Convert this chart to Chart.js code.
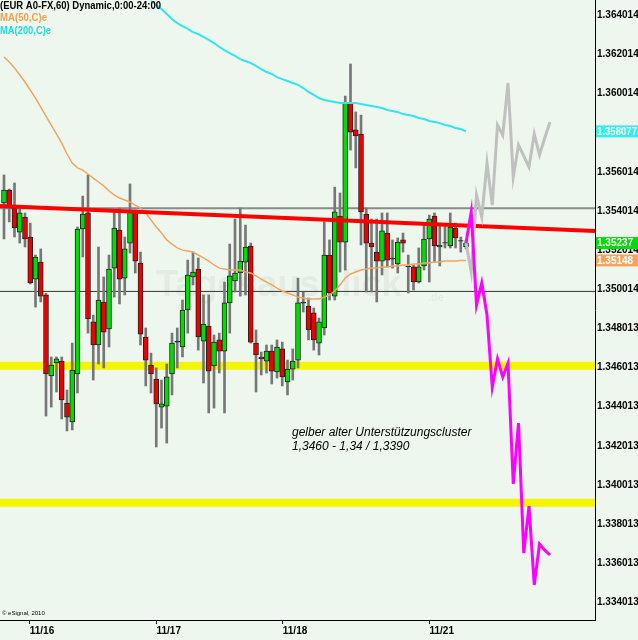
<!DOCTYPE html>
<html>
<head>
<meta charset="utf-8">
<script src="https://cdn.jsdelivr.net/npm/chart.js@4.4.1/dist/chart.umd.min.js"></script>
<style>
  html, body { margin: 0; padding: 0; background: #eef7ee; }
</style>
</head>
<body>
<canvas id="chart" width="638" height="640"></canvas>
<script>
// EUR/USD 60 min candles, index 1..89
const opens = [1.35442,1.35508,1.35416,1.35293,1.35370,1.35268,1.35053,1.35140,1.34972,1.34558,
  1.34624,1.34634,1.34420,1.34323,1.34568,1.35309,1.35391,1.34834,1.34716,1.34936,
  1.34798,1.35109,1.35304,1.35058,1.35237,1.35391,1.35135,1.34757,1.34614,1.34542,
  1.34399,1.34404,1.34568,1.34730,1.34706,1.34895,1.35064,1.35104,1.34736,1.34813,
  1.34609,1.34742,1.34685,1.34931,1.35043,1.35084,1.35140,1.35222,1.34726,1.34655,
  1.34634,1.34685,1.34578,1.34696,1.34527,1.34593,1.34639,1.34930,1.34915,1.34880,
  1.34726,1.34803,1.35176,1.34966,1.35375,1.35242,1.35953,1.35815,1.35794,1.35385,
  1.35237,1.35191,1.35145,1.35288,1.35155,1.35130,1.35253,1.35120,1.35115,1.35038,
  1.35120,1.35258,1.35375,1.35217,1.35237,1.35222,1.35314,1.35247,1.35218];
const highs = [1.35585,1.35513,1.35544,1.35411,1.35391,1.35339,1.35176,1.35207,1.34980,1.34655,
  1.34655,1.34655,1.34486,1.34726,1.35319,1.35477,1.35585,1.34869,1.35217,1.35064,
  1.35176,1.35396,1.35416,1.35268,1.35539,1.35406,1.35191,1.34803,1.34675,1.34599,
  1.34537,1.34619,1.34777,1.34803,1.34946,1.35150,1.35191,1.35161,1.34972,1.34972,
  1.34767,1.34777,1.35038,1.35232,1.35360,1.35416,1.35329,1.35237,1.34793,1.34680,
  1.34716,1.34716,1.34742,1.34731,1.34639,1.34696,1.35058,1.34987,1.34956,1.34905,
  1.34854,1.35345,1.35253,1.35523,1.35493,1.35988,1.36152,1.35907,1.35891,1.35416,
  1.35360,1.35360,1.35391,1.35391,1.35253,1.35263,1.35288,1.35176,1.35125,1.35212,
  1.35339,1.35380,1.35391,1.35339,1.35334,1.35391,1.35339,1.35268,1.35248];
const lows = [1.35258,1.35345,1.35268,1.35237,1.35217,1.35028,1.34910,1.34936,1.34353,1.34399,
  1.34476,1.34338,1.34277,1.34282,1.34471,1.35166,1.34777,1.34537,1.34619,1.34599,
  1.34706,1.34961,1.34926,1.34972,1.35186,1.35084,1.34716,1.34507,1.34471,1.34195,
  1.34292,1.34215,1.34461,1.34599,1.34655,1.34777,1.35023,1.34690,1.34522,1.34369,
  1.34394,1.34573,1.34369,1.34777,1.34987,1.34966,1.34972,1.34726,1.34476,1.34563,
  1.34573,1.34517,1.34547,1.34507,1.34461,1.34537,1.34599,1.34885,1.34742,1.34690,
  1.34665,1.34767,1.34946,1.34946,1.35089,1.35099,1.35712,1.35621,1.35227,1.34987,
  1.34987,1.34936,1.35074,1.35115,1.35109,1.35084,1.35191,1.34982,1.34997,1.35033,
  1.35099,1.35038,1.35140,1.35120,1.35212,1.35212,1.35212,1.35191,1.35207];
const closes = [1.35508,1.35421,1.35314,1.35391,1.35258,1.35033,1.35166,1.34966,1.34568,1.34614,
  1.34645,1.34435,1.34348,1.34588,1.35309,1.35385,1.34849,1.34716,1.34946,1.34782,
  1.35104,1.35314,1.35053,1.35207,1.35396,1.35145,1.34772,1.34639,1.34568,1.34415,
  1.34415,1.34553,1.34726,1.34736,1.34895,1.35074,1.35089,1.34757,1.34823,1.34583,
  1.34731,1.34685,1.34931,1.35069,1.35084,1.35145,1.35217,1.34731,1.34665,1.34645,
  1.34685,1.34583,1.34706,1.34553,1.34593,1.34634,1.34931,1.34936,1.34793,1.34742,
  1.34834,1.35176,1.34982,1.35396,1.35242,1.35953,1.35804,1.35784,1.35396,1.35237,
  1.35217,1.35145,1.35299,1.35150,1.35160,1.35242,1.35237,1.35115,1.35038,1.35115,
  1.35258,1.35360,1.35222,1.35227,1.35240,1.35319,1.35263,1.35250,1.35237];

// MA(50,C) for every candle
const ma50 = [1.36188,1.36162,1.36132,1.36096,1.36060,1.36019,1.35978,1.35932,1.35886,1.35840,
  1.35794,1.35748,1.35692,1.35646,1.35621,1.35610,1.35590,1.35569,1.35549,1.35529,
  1.35503,1.35483,1.35467,1.35457,1.35447,1.35431,1.35416,1.35391,1.35355,1.35319,
  1.35288,1.35253,1.35232,1.35212,1.35201,1.35196,1.35191,1.35176,1.35161,1.35145,
  1.35125,1.35109,1.35104,1.35099,1.35099,1.35099,1.35089,1.35084,1.35069,1.35053,
  1.35038,1.35023,1.35007,1.34992,1.34982,1.34972,1.34961,1.34956,1.34951,1.34951,
  1.34951,1.34961,1.34972,1.34992,1.35023,1.35058,1.35079,1.35089,1.35099,1.35104,
  1.35109,1.35109,1.35115,1.35115,1.35120,1.35120,1.35125,1.35125,1.35130,1.35130,
  1.35135,1.35135,1.35140,1.35140,1.35145,1.35145,1.35145,1.35148,1.35148];

// MA(200,C) visible from candle 29 on
const ma200Start = 29;
const ma200 = [1.36474,1.36453,1.36433,1.36407,1.36382,1.36361,1.36346,1.36331,1.36315,1.36305,
  1.36290,1.36275,1.36259,1.36239,1.36223,1.36208,1.36193,1.36177,1.36167,1.36157,
  1.36142,1.36126,1.36111,1.36101,1.36085,1.36075,1.36065,1.36055,1.36045,1.36029,
  1.36009,1.35994,1.35978,1.35968,1.35963,1.35958,1.35953,1.35953,1.35953,1.35953,
  1.35948,1.35942,1.35937,1.35932,1.35927,1.35917,1.35912,1.35907,1.35896,1.35891,
  1.35886,1.35876,1.35871,1.35861,1.35856,1.35850,1.35840,1.35835,1.35825,1.35820,
  1.358077];

// drawn scenarios, from candle 89 on
const pathStart = 89;
const upPath = [1.35237,1.35089,1.35483,1.35370,1.35646,1.35431,1.35840,1.35789,1.36055,1.35575,
  1.35738,1.35682,1.35626,1.35794,1.35687,1.35774,1.35856];
const downPath = [1.35237,1.35396,1.34920,1.35033,1.34869,1.34501,1.34645,1.34553,1.34624,1.34006,
  1.34317,1.33653,1.33893,1.33490,1.33699,1.33668,1.33643];

const trendLine = [1.35426, 1.35299];     // red resistance, left and right edge
const grayLevel = 1.35415;
const blackLevel = 1.34990;
const yellowLevels = [1.34610, 1.33910];

const priceTicks = [1.364014,1.362014,1.360014,1.358014,1.356014,1.354014,1.352014,1.350014,
  1.348013,1.346013,1.344013,1.342013,1.340013,1.338013,1.336013,1.334013];
const dateTicks = [5.9, 30.05, 54.1, 82.05];
const dateLabels = ['11/16', '11/17', '11/18', '11/21'];

const xMin = 0.238, xMax = 113.57;
const yMin = 1.33311, yMax = 1.36479;

function hline(v) {
  return [{x: xMin, y: v}, {x: xMax, y: v}];
}

const idx = opens.map((_, i) => i + 1);
const bodyColors = idx.map((n, i) => {
  const d = closes[i] - opens[i];
  if (Math.abs(d) < 0.00007) return '#222';
  return d > 0 ? '#00dd00' : '#ee0000';
});

const lastClose = closes[closes.length - 1];
const lastMa50 = ma50[ma50.length - 1];
const lastMa200 = ma200[ma200.length - 1];

const overlay = {
  id: 'overlay',
  beforeDraw(chart) {
    const ctx = chart.ctx;
    ctx.save();
    ctx.fillStyle = '#eef7ee';
    ctx.fillRect(0, 0, chart.width, chart.height);
    ctx.restore();
  },
  beforeDatasetsDraw(chart) {
    const ctx = chart.ctx;
    ctx.save();
    ctx.fillStyle = '#e3ece3';
    ctx.font = 'bold 36px "Liberation Sans", Arial, sans-serif';
    ctx.textBaseline = 'middle';
    ctx.fillText('Tagesausblick', 156, 286, 258);
    ctx.font = 'bold 11px "Liberation Sans", Arial, sans-serif';
    ctx.fillText('.de', 428, 298);
    ctx.restore();
  },
  afterDraw(chart) {
    const ctx = chart.ctx;
    const ys = chart.scales.y;
    ctx.save();
    ctx.textBaseline = 'middle';
    ctx.textAlign = 'left';

    ctx.font = 'bold 11px "Liberation Sans", Arial, sans-serif';
    ctx.fillStyle = '#000';
    ctx.fillText('(EUR A0-FX,60) Dynamic,0:00-24:00', 0, 6, 161);
    ctx.fillStyle = '#f0a050';
    ctx.fillText('MA(50,C)e', 0, 18, 47);
    ctx.fillStyle = '#22dddd';
    ctx.fillText('MA(200,C)e', 0, 31, 51);

    ctx.font = 'italic 12px "Liberation Sans", Arial, sans-serif';
    ctx.fillStyle = '#000';
    ctx.fillText('gelber alter Unterstützungscluster', 292, 433);
    ctx.fillText('1,3460 - 1,34 / 1,3390', 292, 447);

    ctx.font = '6px "Liberation Sans", Arial, sans-serif';
    ctx.fillText('© eSignal, 2010', 2, 613);

    // last value boxes on the price axis
    const boxes = [
      {v: lastMa200, t: lastMa200.toFixed(6), bg: '#33eeee'},
      {v: lastClose, t: lastClose.toFixed(5), bg: '#00dd00'},
      {v: lastMa50, t: lastMa50.toFixed(5), bg: '#f4a460'}
    ];
    ctx.font = 'bold 10px "Liberation Sans", Arial, sans-serif';
    boxes.forEach(b => {
      const y = ys.getPixelForValue(b.v);
      ctx.fillStyle = b.bg;
      ctx.fillRect(596, y - 6, 42, 12);
      ctx.fillStyle = '#fff';
      ctx.fillText(b.t, 597, y + 0.5, 40);
    });
    ctx.restore();
  }
};

new Chart(document.getElementById('chart').getContext('2d'), {
  type: 'line',
  data: {
    datasets: [
      {type: 'line', data: hline(yellowLevels[0]), borderColor: '#f5f500', borderWidth: 8, pointRadius: 0, order: 20},
      {type: 'line', data: hline(yellowLevels[1]), borderColor: '#f5f500', borderWidth: 8, pointRadius: 0, order: 20},
      {type: 'line', data: hline(grayLevel), borderColor: '#8a8a8a', borderWidth: 2, pointRadius: 0, order: 19},
      {type: 'line', data: hline(blackLevel), borderColor: '#333', borderWidth: 1, pointRadius: 0, order: 19},
      {
        type: 'bar',
        data: idx.map((n, i) => ({x: n, y: [lows[i], highs[i]]})),
        backgroundColor: '#777',
        barThickness: 2,
        grouped: false,
        order: 12
      },
      {
        type: 'bar',
        data: idx.map((n, i) => ({x: n, y: [opens[i], closes[i]]})),
        backgroundColor: bodyColors,
        borderColor: '#222',
        borderWidth: 1,
        borderSkipped: false,
        barThickness: 5,
        grouped: false,
        order: 11
      },
      {type: 'line', data: ma50.map((v, i) => ({x: i + 1, y: v})), borderColor: '#f4a460', borderWidth: 1.5, pointRadius: 0, tension: 0, order: 6},
      {type: 'line', data: ma200.map((v, i) => ({x: i + ma200Start, y: v})), borderColor: '#33e6ee', borderWidth: 2, pointRadius: 0, tension: 0, order: 5},
      {type: 'line', data: [{x: xMin, y: trendLine[0]}, {x: xMax, y: trendLine[1]}], borderColor: '#ff0000', borderWidth: 4, pointRadius: 0, order: 4},
      {type: 'line', data: upPath.map((v, i) => ({x: i + pathStart, y: v})), borderColor: '#c0c0c0', borderWidth: 3, pointRadius: 0, tension: 0, order: 3},
      {type: 'line', data: downPath.map((v, i) => ({x: i + pathStart, y: v})), borderColor: '#ff00ff', borderWidth: 3, pointRadius: 0, tension: 0, order: 2}
    ]
  },
  options: {
    responsive: false,
    animation: false,
    devicePixelRatio: 1,
    layout: {padding: 0},
    plugins: {legend: {display: false}, tooltip: {enabled: false}},
    scales: {
      x: {
        type: 'linear',
        min: xMin,
        max: xMax,
        offset: false,
        grid: {drawOnChartArea: false, offset: false, tickLength: 4, color: '#000'},
        border: {display: true, color: '#000', width: 1},
        afterBuildTicks: s => { s.ticks = dateTicks.map(v => ({value: v})); },
        afterFit: s => { s.height = 20; s.paddingLeft = 0; s.paddingRight = 0; },
        ticks: {
          align: 'start',
          maxRotation: 0,
          padding: 1,
          color: '#000',
          font: {family: '"Liberation Sans", Arial, sans-serif', size: 10, weight: 'bold'},
          callback: (v, i) => dateLabels[i]
        }
      },
      y: {
        type: 'linear',
        position: 'right',
        min: yMin,
        max: yMax,
        grid: {drawOnChartArea: false, drawTicks: false},
        border: {display: true, color: '#000', width: 1},
        afterBuildTicks: s => { s.ticks = priceTicks.map(v => ({value: v})); },
        afterFit: s => { s.width = 43; s.paddingTop = 0; s.paddingBottom = 0; },
        ticks: {
          padding: 2,
          color: '#000',
          font: {family: '"Liberation Sans", Arial, sans-serif', size: 10, weight: 'bold'},
          callback: v => v.toFixed(6)
        }
      }
    }
  },
  plugins: [overlay]
});
</script>
</body>
</html>
